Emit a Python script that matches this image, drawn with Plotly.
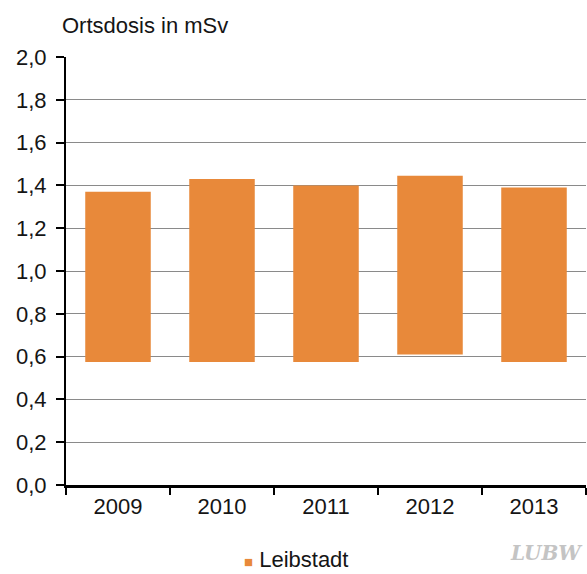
import plotly.graph_objects as go

# Annual local dose range per year (mSv): lower and upper bound
years = ["2009", "2010", "2011", "2012", "2013"]
dose_min = [0.575, 0.575, 0.575, 0.61, 0.575]
dose_max = [1.37, 1.43, 1.40, 1.445, 1.39]
series_name = "Leibstadt"

y_ticks = [0.0, 0.2, 0.4, 0.6, 0.8, 1.0, 1.2, 1.4, 1.6, 1.8, 2.0]

FONT = "Liberation Sans, Arial, sans-serif"
ORANGE = "#E8893A"
TXT = "#151515"

fig = go.Figure()
fig.add_trace(go.Bar(
    x=years,
    y=[hi - lo for lo, hi in zip(dose_min, dose_max)],
    base=dose_min,
    name=series_name,
    marker=dict(color=ORANGE, line=dict(width=0)),
    width=0.63,
    showlegend=False,
))

fig.update_layout(
    width=587, height=574,
    margin=dict(l=66, r=1, t=57, b=89),
    paper_bgcolor="white", plot_bgcolor="white",
    separators=",.",
    font=dict(family=FONT, size=22, color=TXT),
    showlegend=False,
    annotations=[
        # axis caption
        dict(text="Ortsdosis in mSv", x=-0.012, y=1.04, xref="paper", yref="paper",
             xanchor="left", yanchor="bottom", showarrow=False,
             font=dict(size=22, color=TXT)),
        # legend entry
        dict(text=f'<span style="font-size:15px;color:{ORANGE}">■</span> {series_name}',
             x=0.34, y=-0.175, xref="paper", yref="paper",
             xanchor="left", yanchor="middle", showarrow=False, borderpad=0,
             font=dict(size=22, color=TXT)),
        # logo
        dict(text="<i><b>LUBW</b></i>", x=0.998, y=-0.16, xref="paper", yref="paper",
             xanchor="right", yanchor="middle", showarrow=False,
             font=dict(size=20, color="#c4c4c4", family="DejaVu Serif, serif")),
    ],
)

fig.update_xaxes(
    type="category",
    showline=True, linecolor="black", linewidth=2.5,
    ticks="outside", tickson="boundaries", ticklen=7, tickwidth=2, tickcolor="black",
    showgrid=False, tickfont=dict(size=22),
)
fig.update_yaxes(
    range=[0, 2.0], tickvals=y_ticks, tickformat=".1f",
    showline=True, linecolor="black", linewidth=2,
    ticks="outside", ticklen=8, tickwidth=2, tickcolor="black",
    showgrid=True, gridcolor="#8a8a8a", gridwidth=1,
    zeroline=False, tickfont=dict(size=22), ticklabelstandoff=5,
)

fig.write_html("out.html")
